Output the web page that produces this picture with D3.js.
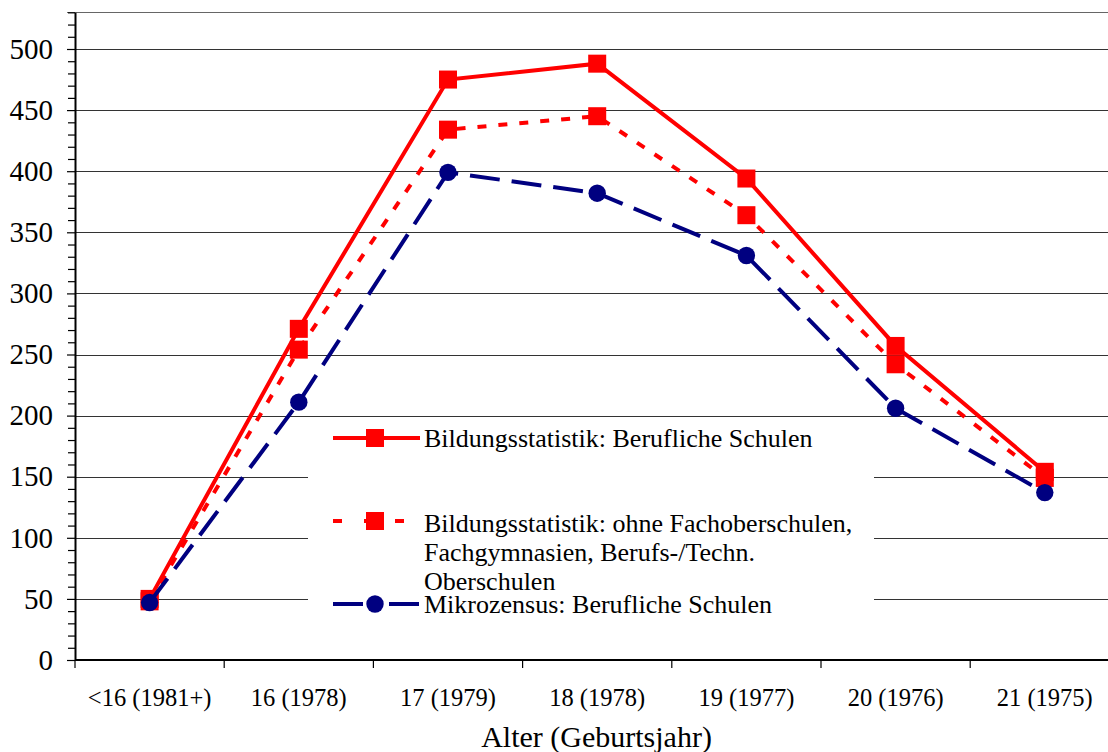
<!DOCTYPE html>
<html>
<head>
<meta charset="utf-8">
<script src="https://cdn.jsdelivr.net/npm/d3@7"></script>
<style>
  html, body { margin: 0; padding: 0; background: #fff; overflow: hidden; }
  svg { display: block; }
  text { font-family: "Liberation Serif", "Times New Roman", serif; fill: #000; }
</style>
</head>
<body>
<svg id="chart" width="1108" height="752"></svg>
<script>
// ---- data ----
const categories = ["<16 (1981+)", "16 (1978)", "17 (1979)", "18 (1978)", "19 (1977)", "20 (1976)", "21 (1975)"];
const bildungAlle = [50, 271, 475, 488, 394, 257, 154];
const bildungOhne = [48, 254, 434, 445, 364, 242, 149];
const mikrozensus = [47, 211, 399, 382, 331, 206, 137];
const yTicks = [0, 50, 100, 150, 200, 250, 300, 350, 400, 450, 500];
const seriesNames = [
  ["Bildungsstatistik: Berufliche Schulen"],
  ["Bildungsstatistik: ohne Fachoberschulen,", "Fachgymnasien, Berufs-/Techn.", "Oberschulen"],
  ["Mikrozensus: Berufliche Schulen"]
];
const xTitle = "Alter (Geburtsjahr)";

// ---- layout ----
const svg = d3.select("#chart");
const left = 75, bottom = 660, pxPerUnit = 1.222;
const yMax = 530;
const x = d3.scaleBand().domain(categories).range([left, left + 7 * 149.2]).padding(0);
const y = d3.scaleLinear().domain([0, yMax]).range([bottom, bottom - yMax * pxPerUnit]);

// gridlines
svg.append("g").selectAll("line").data(yTicks.filter(d => d > 0)).join("line")
  .attr("x1", left).attr("x2", 1108)
  .attr("y1", d => Math.round(y(d)) + 0.5).attr("y2", d => Math.round(y(d)) + 0.5)
  .attr("stroke", "#333").attr("stroke-width", 1);
// top border
svg.append("line").attr("x1", 67).attr("x2", 1108)
  .attr("y1", Math.round(y(yMax)) + 0.5).attr("y2", Math.round(y(yMax)) + 0.5)
  .attr("stroke", "#666").attr("stroke-width", 1.2);

// minor ticks
const minor = d3.range(0, yMax + 1, 10).filter(d => d % 50 !== 0);
svg.append("g").attr("transform", `translate(${left},0)`)
  .call(d3.axisLeft(y).tickValues(minor).tickSize(7).tickFormat(""))
  .call(g => g.select(".domain").remove())
  .selectAll("line").attr("stroke", "#000").attr("stroke-width", 1.2);

// y axis
const yAxis = svg.append("g").attr("transform", `translate(${left},0)`)
  .call(d3.axisLeft(y).tickValues(yTicks).tickSize(8).tickPadding(14).tickSizeOuter(0));
yAxis.select(".domain").attr("stroke", "#000").attr("stroke-width", 2);
yAxis.selectAll(".tick line").attr("stroke", "#000").attr("stroke-width", 1.2);
yAxis.selectAll("text").style("font-size", "29px").style("font-family", '"Liberation Serif", serif').attr("fill", "#000");

// x axis
const xAxis = svg.append("g").attr("transform", `translate(0,${bottom})`)
  .call(d3.axisBottom(x).tickSize(0).tickPadding(30).tickSizeOuter(0));
xAxis.select(".domain").attr("stroke", "#000").attr("stroke-width", 2)
  .attr("d", `M${left},0H1108`);
xAxis.selectAll("text").style("font-size", "24.5px").style("font-family", '"Liberation Serif", serif').attr("fill", "#000")
  .attr("dy", "0").attr("y", 46);
svg.append("g").selectAll("line").data(categories).join("line")
  .attr("x1", d => x(d)).attr("x2", d => x(d))
  .attr("y1", bottom).attr("y2", bottom + 8)
  .attr("stroke", "#000").attr("stroke-width", 1.2);

// x title
svg.append("text").attr("x", 596.5).attr("y", 747).attr("text-anchor", "middle")
  .style("font-size", "30px").text(xTitle);

// ---- legend background ----
svg.append("rect").attr("x", 308).attr("y", 421).attr("width", 566).attr("height", 204).attr("fill", "#fff");

// ---- series ----
const cx = d => x(d) + x.bandwidth() / 2;
const line = d3.line().x(d => cx(d[0])).y(d => y(d[1]));
const series = [
  { values: bildungAlle, color: "#ff0000", dash: null, marker: "square" },
  { values: bildungOhne, color: "#ff0000", dash: "9,12", marker: "square" },
  { values: mikrozensus, color: "#000080", dash: "30,12", marker: "circle" }
];
series.forEach(s => {
  const pts = categories.map((c, i) => [c, s.values[i]]);
  svg.append("path").datum(pts).attr("d", line)
    .attr("fill", "none").attr("stroke", s.color).attr("stroke-width", 4)
    .attr("stroke-dasharray", s.dash);
  if (s.marker === "square") {
    svg.append("g").selectAll("rect").data(pts).join("rect")
      .attr("x", d => cx(d[0]) - 9).attr("y", d => y(d[1]) - 9)
      .attr("width", 18).attr("height", 18).attr("fill", s.color);
  } else {
    svg.append("g").selectAll("circle").data(pts).join("circle")
      .attr("cx", d => cx(d[0])).attr("cy", d => y(d[1])).attr("r", 8.7).attr("fill", s.color);
  }
});

// ---- legend ----
const legendY = [438, 521, 604];
const textBase = [[447], [532, 561, 590], [613]];
series.forEach((s, i) => {
  const g = svg.append("g");
  g.append("line").attr("x1", 333).attr("x2", 420).attr("y1", legendY[i]).attr("y2", legendY[i])
    .attr("stroke", s.color).attr("stroke-width", 4).attr("stroke-dasharray", s.dash ? (i === 1 ? "9,22" : "30,26") : null);
  if (s.marker === "square") {
    g.append("rect").attr("x", 366).attr("y", legendY[i] - 9).attr("width", 18).attr("height", 18).attr("fill", s.color);
  } else {
    g.append("circle").attr("cx", 375).attr("cy", legendY[i]).attr("r", 8.7).attr("fill", s.color);
  }
  seriesNames[i].forEach((t, j) => {
    g.append("text").attr("x", 424).attr("y", textBase[i][j]).style("font-size", "26px").text(t);
  });
});
</script>
</body>
</html>
